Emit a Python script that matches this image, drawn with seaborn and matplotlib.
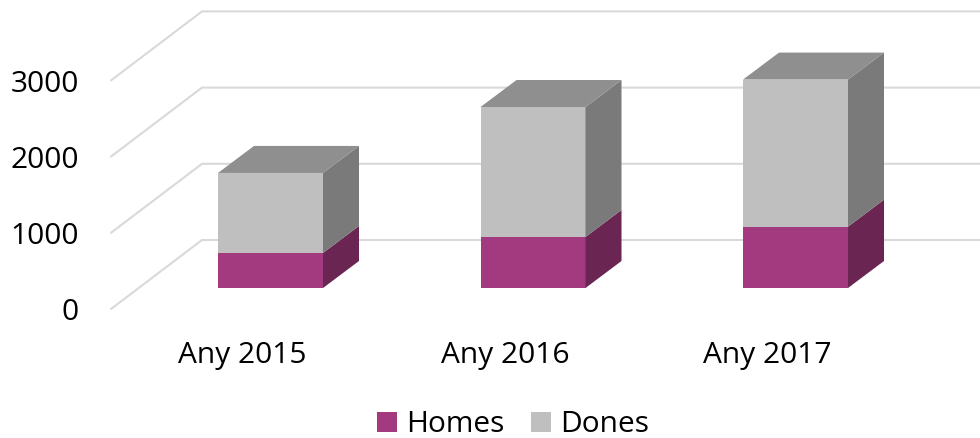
import matplotlib
matplotlib.use("Agg")
import matplotlib.pyplot as plt
import seaborn as sns

anys = ["Any 2015", "Any 2016", "Any 2017"]
homes = [460, 670, 805]
dones = [1050, 1705, 1930]
ticks = [0, 1000, 2000, 3000]

sns.set_theme(style="white")
plt.rcParams["font.family"] = ["Open Sans", "DejaVu Sans"]

# pixels per unit, the axes fill the whole figure
px_x = 262.5
px_y = 0.0762
fig = plt.figure(figsize=(9.8, 4.38), dpi=100)
ax = fig.add_axes([0, 0, 1, 1])

sns.barplot(x=anys, y=homes, color="#A33A80", saturation=1, width=0.4,
            label="Homes", legend=False, ax=ax, zorder=3, linewidth=0)
sns.barplot(x=anys, y=dones, bottom=homes, color="#BFBFBF", saturation=1, width=0.4,
            label="Dones", legend=False, ax=ax, zorder=3, linewidth=0)

ax.set_xlim(-270.5 / px_x, (980 - 270.5) / px_x)
ax.set_ylim(-(438 - 288) / px_y, 288 / px_y)
ax.axis("off")

# fake 3d: depth of the bars
dx = 36 / px_x
dy = 27 / px_y
sides = ["#6A2553", "#7A7A7A"]
for cont, side in zip(ax.containers, sides):
    for b in cont:
        x1 = b.get_x() + b.get_width()
        y0 = b.get_y()
        y1 = y0 + b.get_height()
        ax.fill([x1, x1 + dx, x1 + dx, x1], [y0, y0 + dy, y1 + dy, y1],
                color=side, lw=0, zorder=3)
for b in ax.containers[1]:
    x0 = b.get_x()
    x1 = x0 + b.get_width()
    y1 = b.get_y() + b.get_height()
    ax.fill([x0, x1, x1 + dx, x0 + dx], [y1, y1, y1 + dy, y1 + dy],
            color="#8F8F8F", lw=0, zorder=3)

# walls: side wall goes from the front edge to the back wall
front_x = (111 - 270.5) / px_x
back_x = (202 - 270.5) / px_x
front_y = (288 - 309) / px_y
back_y = (288 - 240) / px_y
label_y = (288 - 313) / px_y
for t in ticks:
    ax.plot([front_x, back_x, ax.get_xlim()[1]],
            [t + front_y, t + back_y, t + back_y],
            color="#D9D9D9", lw=1.5, zorder=1, solid_joinstyle="miter")
    ax.text((79 - 270.5) / px_x, t + label_y, str(t), ha="right", va="center",
            fontsize=21.5, color="black")

for i, a in enumerate(anys):
    ax.text(i - 28 / px_x, -(356 - 288) / px_y, a, ha="center", va="center",
            fontsize=21.5, color="black")

handles = [ax.containers[0][0], ax.containers[1][0]]
ax.legend(handles, ["Homes", "Dones"], ncol=2, frameon=False, fontsize=21.5,
          loc="center", bbox_to_anchor=(513 / 980, 1 - 425 / 438),
          handlelength=0.67, handleheight=0.67, handletextpad=0.3,
          columnspacing=0.9, borderpad=0, labelcolor="black")

fig.savefig("out.png", dpi=100)
